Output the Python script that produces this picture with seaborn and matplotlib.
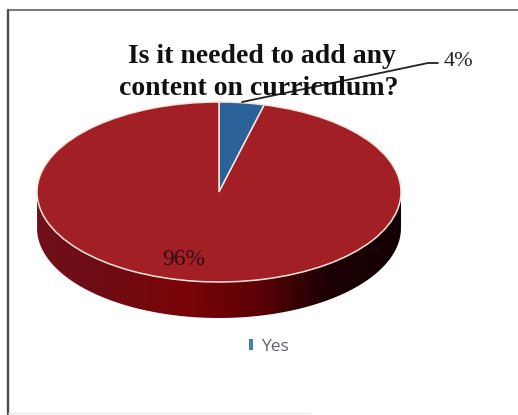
import numpy as np
import matplotlib
matplotlib.use("Agg")
import matplotlib.pyplot as plt
from matplotlib.colors import ListedColormap
from matplotlib.patches import PathPatch
from matplotlib.path import Path
import seaborn as sns

# ---- data ----
categories = ["Yes", "No"]
values = [4, 96]
pct_labels = ["4%", "96%"]
title_lines = ["Is it needed to add any", "content on curriculum?"]

W, H = 518, 415
sns.set_theme(style="white")
fig = plt.figure(figsize=(W / 100, H / 100), dpi=100, facecolor="white")

def px_axes(l, t, r, b, **kw):
    return fig.add_axes([l / W, 1 - b / H, (r - l) / W, (b - t) / H], **kw)

# pie axes spanning the top ellipse plus extruded depth
ax = px_axes(37, 102, 401, 318)
depth = 0.4
wedges, _ = ax.pie(values, startangle=90, counterclock=False,
                   colors=["#2A6299", "#A31F26"],
                   wedgeprops=dict(edgecolor="#F5E6DC", linewidth=1.1, zorder=3))
ax.set_aspect("auto")
ax.set_xlim(-1, 1)
ax.set_ylim(-1 - depth, 1)
ax.axis("off")

# extruded side with a horizontal gradient
shade = sns.blend_palette(["#70101A", "#6E0C12", "#7A0408", "#5E0206", "#1C0004", "#140003"], 256)
grad = np.linspace(0, 1, 256).reshape(1, -1)
im = ax.imshow(grad, extent=(-1, 1, -1 - depth, 0), cmap=ListedColormap(shade),
               aspect="auto", zorder=1)
t = np.linspace(np.pi, 2 * np.pi, 200)
verts = np.column_stack([np.cos(t), np.sin(t) - depth])
verts = np.vstack([[-1, 0], verts, [1, 0], [-1, 0]])
clip = PathPatch(Path(verts), transform=ax.transData, facecolor="none", edgecolor="none")
ax.add_patch(clip)
im.set_clip_path(clip)
ax.set_xlim(-1, 1)
ax.set_ylim(-1 - depth, 1)

# full-figure overlay in pixel units for text and frame
ov = fig.add_axes([0, 0, 1, 1], facecolor="none")
ov.set_xlim(0, W)
ov.set_ylim(H, 0)
ov.axis("off")

# scanned frame: dark left and top rules, very faint bottom rule
ov.plot([8, 8], [10, 414], color="#474B57", lw=1.7)
ov.plot([8, 518], [10, 10], color="#555555", lw=1.1)
ov.plot([8, 310], [413, 413], color="#E6E6E6", lw=0.8)

serif = "Liberation Serif"
ov.text(261.5, 63, title_lines[0], family=serif, weight="bold", fontsize=20,
        color="#111111", ha="center", va="baseline")
ov.text(259, 95, title_lines[1], family=serif, weight="bold", fontsize=20,
        color="#111111", ha="center", va="baseline")
ov.plot([242, 428, 438], [102, 63, 63], color="#222222", lw=1.3, solid_capstyle="round")
ov.text(458, 66, pct_labels[0], family=serif, fontsize=16, color="#222222",
        ha="center", va="baseline")
ov.text(184, 265, pct_labels[1], family=serif, fontsize=17, color="#2E0A12",
        ha="center", va="baseline")

leg = ov.legend(handles=[wedges[0]], labels=[categories[0]], loc="center",
                bbox_to_anchor=(269 / W, 1 - 347 / H), bbox_transform=fig.transFigure,
                frameon=False, handlelength=0.22, handleheight=0.6, handletextpad=0.45,
                prop=dict(family="Open Sans", size=12.5), labelcolor="#5F6468")
for h in leg.legend_handles:
    h.set_edgecolor("none")
    h.set_facecolor("#4A7FA8")

plt.savefig("out.png", dpi=100)
